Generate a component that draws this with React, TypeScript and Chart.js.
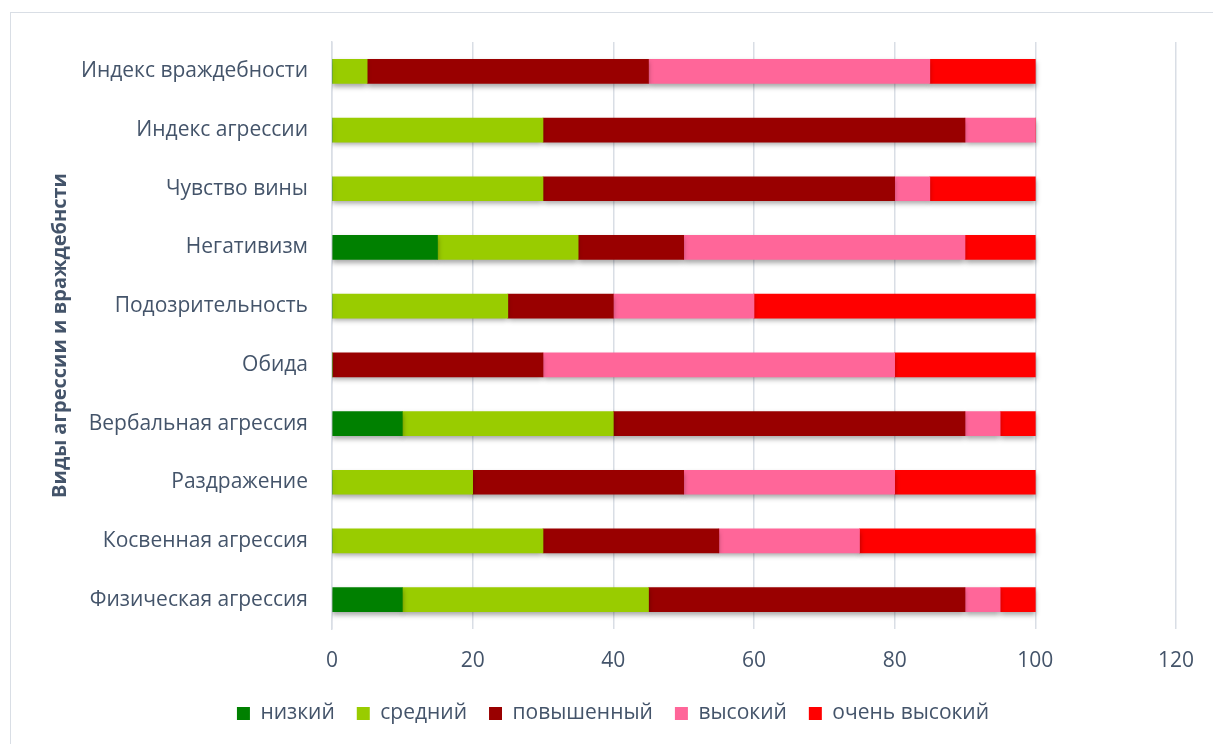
import React, { useEffect, useRef } from "react";
import { Chart, registerables } from "chart.js";

Chart.register(...registerables);

const categories = [
  "Индекс враждебности",
  "Индекс агрессии",
  "Чувство вины",
  "Негативизм",
  "Подозрительность",
  "Обида",
  "Вербальная агрессия",
  "Раздражение",
  "Косвенная агрессия",
  "Физическая агрессия",
];

const seriesNames = ["низкий", "средний", "повышенный", "высокий", "очень высокий"];
const seriesColors = ["#008000", "#99CC00", "#990000", "#FF6699", "#FF0000"];

const low = [0, 0, 0, 15, 0, 0, 10, 0, 0, 10];
const medium = [5, 30, 30, 20, 25, 0, 30, 20, 30, 35];
const elevated = [40, 60, 50, 15, 15, 30, 50, 30, 25, 45];
const high = [40, 10, 5, 40, 20, 50, 5, 30, 20, 5];
const veryHigh = [15, 0, 15, 10, 40, 20, 5, 20, 25, 5];

const xTicks = [0, 20, 40, 60, 80, 100, 120];
const axisTitle = "Виды агрессии и враждебнсти";

const TEXT = "#44546A";
const GRID = "#D9DEE5";
const FONT = "'Open Sans', 'Noto Sans', sans-serif";

const shadowPlugin = {
  id: "barShadow",
  beforeDatasetsDraw(chart: any) {
    const ctx = chart.ctx;
    ctx.save();
    ctx.shadowColor = "rgba(0,0,0,0.35)";
    ctx.shadowBlur = 5;
    ctx.shadowOffsetX = 0;
    ctx.shadowOffsetY = 3;
  },
  afterDatasetsDraw(chart: any) {
    chart.ctx.restore();
  },
};

export default function App() {
  const ref = useRef<HTMLCanvasElement | null>(null);

  useEffect(() => {
    const values = [low, medium, elevated, high, veryHigh];
    const chart = new Chart(ref.current as HTMLCanvasElement, {
      type: "bar",
      data: {
        labels: categories,
        datasets: seriesNames.map((name, i) => ({
          label: name,
          data: values[i],
          backgroundColor: seriesColors[i],
          borderWidth: 0,
          barThickness: 24,
        })),
      },
      plugins: [shadowPlugin],
      options: {
        indexAxis: "y",
        animation: false,
        responsive: false,
        maintainAspectRatio: false,
        layout: { padding: { left: 48, right: 35, top: 42, bottom: 10 } },
        font: { family: FONT },
        scales: {
          x: {
            stacked: true,
            min: 0,
            max: 120,
            afterBuildTicks(scale: any) {
              scale.ticks = xTicks.map((v) => ({ value: v }));
            },
            afterFit(scale: any) {
              scale.height = 52;
            },
            grid: { color: GRID, lineWidth: 1.5, drawTicks: false },
            border: { display: false },
            ticks: { color: TEXT, font: { family: FONT, size: 21 }, padding: 19 },
          },
          y: {
            stacked: true,
            afterFit(scale: any) {
              scale.width = 332 - 48;
            },
            grid: { display: false, drawTicks: false },
            border: { display: true, color: GRID, width: 1.5 },
            ticks: { color: TEXT, font: { family: FONT, size: 21 }, padding: 24 },
            title: {
              display: true,
              text: axisTitle,
              color: TEXT,
              font: { family: FONT, size: 20, weight: "bold" },
              padding: 0,
            },
          },
        },
        plugins: {
          legend: {
            position: "bottom",
            labels: {
              color: TEXT,
              font: { family: FONT, size: 21 },
              boxWidth: 13,
              boxHeight: 13,
              padding: 22,
            },
          },
          tooltip: { enabled: false },
        },
      },
    });
    return () => chart.destroy();
  }, []);

  return (
    <div style={{ position: "fixed", left: 0, top: 0, width: 1213, height: 744, background: "#fff" }}>
      <div
        style={{
          position: "absolute",
          left: 10,
          top: 12,
          width: 1213,
          height: 744,
          border: "1px solid #D9DEE5",
          boxSizing: "border-box",
        }}
      />
      <canvas ref={ref} width={1213} height={744} style={{ position: "absolute", left: 0, top: 0 }} />
    </div>
  );
}
